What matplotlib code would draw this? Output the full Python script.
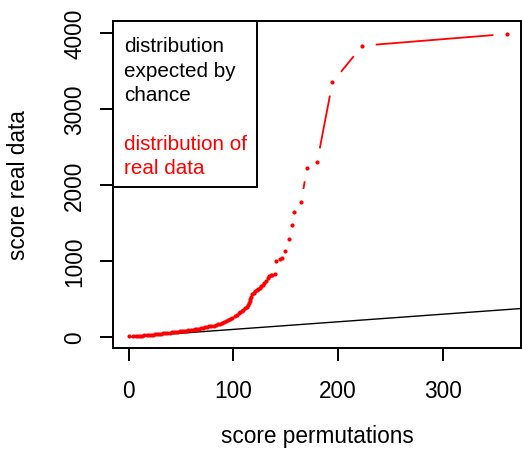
import matplotlib
matplotlib.use("Agg")
import matplotlib.pyplot as plt
from matplotlib.patches import Rectangle
import numpy as np

plt.rcParams['font.family'] = ['Liberation Sans', 'DejaVu Sans']

# permutation scores (x) and real-data scores (y)
perm = [0, 4, 7, 9, 11, 13, 15, 17, 19, 21, 23, 25, 27, 29, 31, 33, 35, 37, 39, 41,
        43, 45, 47, 49, 51, 53, 55, 57, 59, 61, 63, 65, 67, 69, 71, 73, 75, 77, 79, 81,
        83, 85, 87, 89, 91, 93, 95, 97, 99, 101, 103, 105, 106.5, 108, 109.5, 111, 112.5,
        114, 114.8, 115.5, 116.2, 117, 118, 119.2, 120.5, 122, 123.5, 125, 126.5, 128,
        129.5, 131, 132.5, 134, 135.5, 137, 139.4, 141, 144, 146.5, 149, 153, 155.5,
        157.5, 164.5, 170.3, 180, 194.5, 223, 361]
real = [15, 17, 16, 14, 15, 17, 20, 22, 25, 28, 30, 33, 36, 38, 42, 46, 50, 53, 56, 59,
        62, 65, 69, 73, 76, 80, 83, 87, 91, 95, 99, 104, 109, 115, 120, 126, 132, 138, 144, 150,
        157, 165, 175, 185, 195, 208, 222, 238, 255, 272, 292, 315, 330, 345, 360, 375, 392,
        420, 450, 480, 505, 530, 560, 585, 600, 615, 632, 650, 665, 685,
        710, 740, 770, 800, 812, 822, 829, 1000, 1020, 1035, 1136, 1289, 1474,
        1649, 1772, 2224, 2307, 3351, 3833, 3987]

# expected-by-chance reference line (y = x)
chance_x = [0, 400]
chance_y = [0, 400]

xticks = [0, 100, 200, 300]
yticks = [0, 1000, 2000, 3000, 4000]

W, H = 522, 452
fig = plt.figure(figsize=(W / 100, H / 100), dpi=100)
ax = fig.add_axes([113 / W, 1 - 349 / H, 408 / W, 327 / H])
ax.set_xlim(-15, 374.5)
ax.set_ylim(-145, 4158)

for s in ax.spines.values():
    s.set_linewidth(1.4)

ax.plot(chance_x, chance_y, color='black', lw=1.0, solid_capstyle='butt')

red = '#ff0000'
ax.plot(perm, real, linestyle='none', marker='o', ms=3.0, mew=0, color=red)

# R type="b": connecting segments with a gap around each point
gap = 13.5  # pixels
pts = ax.transData.transform(np.column_stack([perm, real]))
inv = ax.transData.inverted()
for (x0, y0), (x1, y1) in zip(pts[:-1], pts[1:]):
    d = np.hypot(x1 - x0, y1 - y0)
    if d > 2 * gap:
        ux, uy = (x1 - x0) / d, (y1 - y0) / d
        a = inv.transform((x0 + ux * gap, y0 + uy * gap))
        b = inv.transform((x1 - ux * gap, y1 - uy * gap))
        ax.plot([a[0], b[0]], [a[1], b[1]], color=red, lw=1.3, solid_capstyle='butt')

ax.set_xticks(xticks)
ax.set_yticks(yticks)
ax.set_xticklabels([str(t) for t in xticks], fontsize=16.3)
ax.set_yticklabels([str(t) for t in yticks], fontsize=16.3, rotation=90, va='center')
ax.tick_params(axis='both', length=9.4, width=1.4, direction='out')
ax.tick_params(axis='x', pad=13)
ax.tick_params(axis='y', pad=10)

fig.text(317.5 / W, 1 - 436.7 / H, 'score permutations', fontsize=16.3,
         ha='center', va='center')
fig.text(19 / W, 1 - 185.5 / H, 'score real data', fontsize=16.3,
         ha='center', va='center', rotation=90)

# legend box
ax.add_patch(Rectangle((0, 0.492), 0.353, 0.508, transform=ax.transAxes,
                       facecolor='white', edgecolor='black', lw=1.4, zorder=5,
                       clip_on=False))
lines = [('distribution', 0.9093, 'black'), ('expected by', 0.8327, 'black'),
         ('chance', 0.7593, 'black'), ('distribution of', 0.6086, red),
         ('real data', 0.5343, red)]
for txt, yy, c in lines:
    ax.text(0.027, yy, txt, transform=ax.transAxes, fontsize=14.9, color=c,
            ha='left', va='baseline', zorder=6)

fig.savefig('out.png', dpi=100)
